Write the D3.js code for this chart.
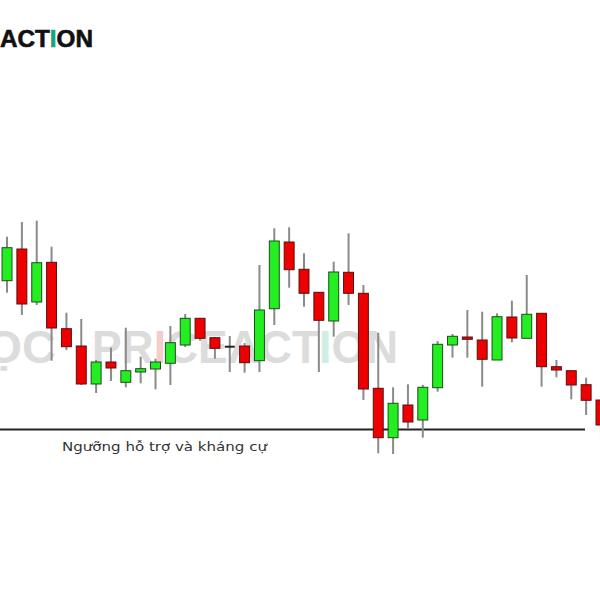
<!DOCTYPE html>
<html>
<head>
<meta charset="utf-8">
<script src="https://cdn.jsdelivr.net/npm/d3@7"></script>
<style>
  html, body { margin: 0; padding: 0; background: #fff; }
  svg { display: block; }
</style>
</head>
<body>
<svg id="chart" width="600" height="600"></svg>
<script>
// ---- data (price units) ----
const openV  = [179.3,211,158,197.7,131.3,114,76,98,77.7,88,91,96.7,115,141.7,122.3,113.3,114,99.3,151.3,218,190.7,167.7,139,187.7,166.7,71.7,22.3,55,40,72.3,115,123,120,100,143,121.7,146.7,93.3,89.3,75.3,60];
const highV  = [223.3,238,239.3,213.3,147.3,141,100,112.3,132.3,103.3,101.3,134,146,142,123,124,117,195,231.7,232.7,206.7,168,198.3,226.7,175,127.3,72.7,75.7,75,119,126,150,148.3,146.7,159.3,185,146.7,100,89.3,82.3,60];
const lowV   = [167.3,145,155,99.3,110,75,67,79,72.7,76.7,70.7,75,113,119.3,101.3,88,87.3,88,135,172.3,153.3,88,123.3,155,60,6.7,6,31.3,22.3,68.3,102.3,102.3,73.3,100,117.7,121.7,73.3,82.7,60.7,45,20];
const closeV = [212.3,156,197.3,132,113.3,76,98,92,89.3,91.3,98,117.3,141.7,121.7,111.7,113.3,97.3,150,219,190.3,166.7,139.7,188,166.7,71,22.3,56.7,38,72.7,115.7,123.7,120.7,100.7,143.3,122,145.7,93.3,90,75,59.7,35];
const supportLevel = 30.5;
const supportLabel = "Ngưỡng hỗ trợ và kháng cự";
const watermarkHead = "HỌC";
const watermarkParts = [["PR", "#dcdcdc"], ["I", "#f3cccc"], ["CEACT", "#dcdcdc"], ["I", "#cdeee0"], ["ON", "#dcdcdc"]];
const logoParts = [["ACT", "#111"], ["I", "#1aa37a"], ["ON", "#111"]];

const svg = d3.select("#chart");
const idx = d3.range(openV.length);

const x = d3.scaleBand().domain(idx).range([-0.4, 608.4]).paddingInner(0.33).paddingOuter(0.165);
const y = d3.scaleLinear().domain([0, 250]).range([460, 210]);

const FONT = "Liberation Sans, Arial, sans-serif";

// logo
const logo = svg.append("text")
  .attr("x", 0).attr("y", 47)
  .attr("font-family", FONT)
  .attr("font-weight", "bold").attr("font-size", 23)
  .attr("textLength", 93).attr("lengthAdjust", "spacingAndGlyphs")
  .attr("stroke", "#111").attr("stroke-width", 0.6);
logoParts.forEach(p => logo.append("tspan").attr("fill", p[1]).attr("stroke", p[1]).text(p[0]));

// watermark
svg.append("text")
  .attr("x", 56).attr("y", 363).attr("text-anchor", "end")
  .attr("font-family", FONT)
  .attr("font-weight", "bold").attr("font-size", 47)
  .attr("fill", "#dcdcdc")
  .text(watermarkHead);
const wm = svg.append("text")
  .attr("x", 92).attr("y", 363)
  .attr("font-family", FONT)
  .attr("font-weight", "bold").attr("font-size", 47)
  .attr("textLength", 306).attr("lengthAdjust", "spacingAndGlyphs");
watermarkParts.forEach(p => wm.append("tspan").attr("fill", p[1]).text(p[0]));

// support line
svg.append("line")
  .attr("x1", 0).attr("x2", 585)
  .attr("y1", y(supportLevel)).attr("y2", y(supportLevel))
  .attr("stroke", "#222").attr("stroke-width", 2);

svg.append("text")
  .attr("x", 62).attr("y", 451)
  .attr("font-family", "DejaVu Sans, Verdana, sans-serif")
  .attr("font-size", 13).attr("fill", "#333")
  .attr("textLength", 205).attr("lengthAdjust", "spacingAndGlyphs")
  .text(supportLabel);

// candles
const g = svg.append("g");
const cx = i => x(i) + x.bandwidth() / 2;

g.selectAll("line.wick").data(idx).enter().append("line")
  .attr("class", "wick")
  .attr("x1", cx).attr("x2", cx)
  .attr("y1", i => y(highV[i])).attr("y2", i => y(lowV[i]))
  .attr("stroke", "#8a8a8a").attr("stroke-width", 2);

g.selectAll("rect.body").data(idx.filter(i => openV[i] !== closeV[i])).enter().append("rect")
  .attr("class", "body")
  .attr("x", i => x(i))
  .attr("width", x.bandwidth())
  .attr("y", i => y(Math.max(openV[i], closeV[i])))
  .attr("height", i => Math.max(2, Math.abs(y(openV[i]) - y(closeV[i]))))
  .attr("fill", i => closeV[i] > openV[i] ? "#22ee22" : "#ee0000")
  .attr("stroke", i => closeV[i] > openV[i] ? "#1c4d1c" : "#5a1010")
  .attr("stroke-width", 1);

g.selectAll("line.doji").data(idx.filter(i => openV[i] === closeV[i])).enter().append("line")
  .attr("class", "doji")
  .attr("x1", i => x(i)).attr("x2", i => x(i) + x.bandwidth())
  .attr("y1", i => y(openV[i])).attr("y2", i => y(openV[i]))
  .attr("stroke", "#222").attr("stroke-width", 2);
</script>
</body>
</html>
